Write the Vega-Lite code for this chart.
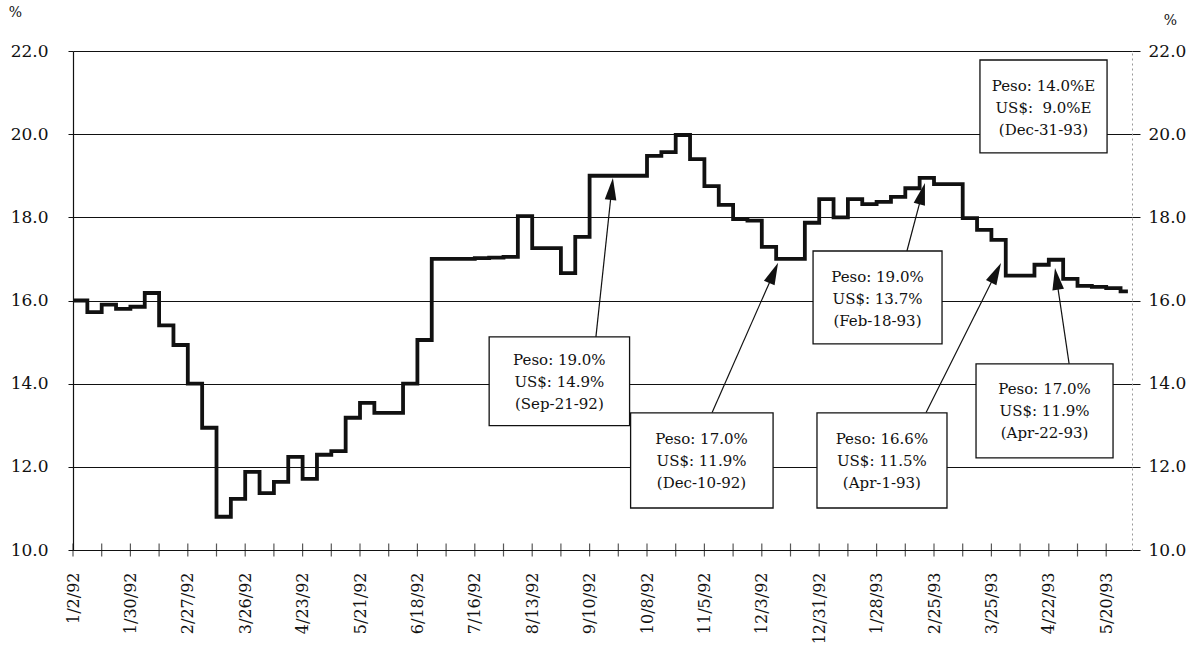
{
  "$schema": "https://vega.github.io/schema/vega-lite/v6.json",
  "width": 1059,
  "height": 499,
  "autosize": {"type": "none"},
  "padding": {"left": 73, "top": 51, "right": 70, "bottom": 97},
  "background": "white",
  "config": {"view": {"stroke": null}, "font": "DejaVu Serif"},
  "datasets": {
    "series": [
      {"date": "1992-01-02T00:00", "rate": 16.0},
      {"date": "1992-01-09T00:00", "rate": 15.72},
      {"date": "1992-01-16T00:00", "rate": 15.9},
      {"date": "1992-01-23T00:00", "rate": 15.8},
      {"date": "1992-01-30T00:00", "rate": 15.85},
      {"date": "1992-02-06T00:00", "rate": 16.18},
      {"date": "1992-02-13T00:00", "rate": 15.4},
      {"date": "1992-02-20T00:00", "rate": 14.93},
      {"date": "1992-02-27T00:00", "rate": 14.0},
      {"date": "1992-03-05T00:00", "rate": 12.94},
      {"date": "1992-03-12T00:00", "rate": 10.8},
      {"date": "1992-03-19T00:00", "rate": 11.23},
      {"date": "1992-03-26T00:00", "rate": 11.88},
      {"date": "1992-04-02T00:00", "rate": 11.37},
      {"date": "1992-04-09T00:00", "rate": 11.64},
      {"date": "1992-04-16T00:00", "rate": 12.24},
      {"date": "1992-04-23T00:00", "rate": 11.71},
      {"date": "1992-04-30T00:00", "rate": 12.29},
      {"date": "1992-05-07T00:00", "rate": 12.38},
      {"date": "1992-05-14T00:00", "rate": 13.18},
      {"date": "1992-05-21T00:00", "rate": 13.54},
      {"date": "1992-05-28T00:00", "rate": 13.3},
      {"date": "1992-06-04T00:00", "rate": 13.3},
      {"date": "1992-06-11T00:00", "rate": 14.0},
      {"date": "1992-06-18T00:00", "rate": 15.05},
      {"date": "1992-06-25T00:00", "rate": 17.0},
      {"date": "1992-07-02T00:00", "rate": 17.0},
      {"date": "1992-07-09T00:00", "rate": 17.0},
      {"date": "1992-07-16T00:00", "rate": 17.02},
      {"date": "1992-07-23T00:00", "rate": 17.03},
      {"date": "1992-07-30T00:00", "rate": 17.05},
      {"date": "1992-08-06T00:00", "rate": 18.03},
      {"date": "1992-08-13T00:00", "rate": 17.26},
      {"date": "1992-08-20T00:00", "rate": 17.26},
      {"date": "1992-08-27T00:00", "rate": 16.66},
      {"date": "1992-09-03T00:00", "rate": 17.53},
      {"date": "1992-09-10T00:00", "rate": 19.0},
      {"date": "1992-09-17T00:00", "rate": 19.0},
      {"date": "1992-09-24T00:00", "rate": 19.0},
      {"date": "1992-10-01T00:00", "rate": 19.0},
      {"date": "1992-10-08T00:00", "rate": 19.48},
      {"date": "1992-10-15T00:00", "rate": 19.57},
      {"date": "1992-10-22T00:00", "rate": 19.98},
      {"date": "1992-10-29T00:00", "rate": 19.4},
      {"date": "1992-11-05T00:00", "rate": 18.75},
      {"date": "1992-11-12T00:00", "rate": 18.3},
      {"date": "1992-11-19T00:00", "rate": 17.96},
      {"date": "1992-11-26T00:00", "rate": 17.92},
      {"date": "1992-12-03T00:00", "rate": 17.29},
      {"date": "1992-12-10T00:00", "rate": 17.0},
      {"date": "1992-12-17T00:00", "rate": 17.0},
      {"date": "1992-12-24T00:00", "rate": 17.87},
      {"date": "1992-12-31T00:00", "rate": 18.44},
      {"date": "1993-01-07T00:00", "rate": 18.0},
      {"date": "1993-01-14T00:00", "rate": 18.44},
      {"date": "1993-01-21T00:00", "rate": 18.32},
      {"date": "1993-01-28T00:00", "rate": 18.37},
      {"date": "1993-02-04T00:00", "rate": 18.49},
      {"date": "1993-02-11T00:00", "rate": 18.7},
      {"date": "1993-02-18T00:00", "rate": 18.95},
      {"date": "1993-02-25T00:00", "rate": 18.8},
      {"date": "1993-03-04T00:00", "rate": 18.8},
      {"date": "1993-03-11T00:00", "rate": 17.98},
      {"date": "1993-03-18T00:00", "rate": 17.7},
      {"date": "1993-03-25T00:00", "rate": 17.46},
      {"date": "1993-04-01T00:00", "rate": 16.6},
      {"date": "1993-04-08T00:00", "rate": 16.6},
      {"date": "1993-04-15T00:00", "rate": 16.86},
      {"date": "1993-04-22T00:00", "rate": 16.98},
      {"date": "1993-04-29T00:00", "rate": 16.52},
      {"date": "1993-05-06T00:00", "rate": 16.35},
      {"date": "1993-05-13T00:00", "rate": 16.33},
      {"date": "1993-05-20T00:00", "rate": 16.3},
      {"date": "1993-05-27T00:00", "rate": 16.22},
      {"date": "1993-05-30T14:00", "rate": 16.22}
    ],
    "ticks": [
      {"date": "1992-01-02T00:00"}, {"date": "1992-01-16T00:00"}, {"date": "1992-01-30T00:00"},
      {"date": "1992-02-13T00:00"}, {"date": "1992-02-27T00:00"}, {"date": "1992-03-12T00:00"},
      {"date": "1992-03-26T00:00"}, {"date": "1992-04-09T00:00"}, {"date": "1992-04-23T00:00"},
      {"date": "1992-05-07T00:00"}, {"date": "1992-05-21T00:00"}, {"date": "1992-06-04T00:00"},
      {"date": "1992-06-18T00:00"}, {"date": "1992-07-02T00:00"}, {"date": "1992-07-16T00:00"},
      {"date": "1992-07-30T00:00"}, {"date": "1992-08-13T00:00"}, {"date": "1992-08-27T00:00"},
      {"date": "1992-09-10T00:00"}, {"date": "1992-09-24T00:00"}, {"date": "1992-10-08T00:00"},
      {"date": "1992-10-22T00:00"}, {"date": "1992-11-05T00:00"}, {"date": "1992-11-19T00:00"},
      {"date": "1992-12-03T00:00"}, {"date": "1992-12-17T00:00"}, {"date": "1992-12-31T00:00"},
      {"date": "1993-01-14T00:00"}, {"date": "1993-01-28T00:00"}, {"date": "1993-02-11T00:00"},
      {"date": "1993-02-25T00:00"}, {"date": "1993-03-11T00:00"}, {"date": "1993-03-25T00:00"},
      {"date": "1993-04-08T00:00"}, {"date": "1993-04-22T00:00"}, {"date": "1993-05-06T00:00"},
      {"date": "1993-05-20T00:00"}
    ],
    "boxes": [
      {"x1": "1992-07-23T00:00", "x2": "1992-09-29T12:00", "y1": 15.125, "y2": 12.99, "xc": "1992-08-26T06:00", "yc": 14.572, "label": "Peso: 19.0%\nUS$: 14.9%\n(Sep-21-92)"},
      {"x1": "1992-09-30T00:00", "x2": "1992-12-08T12:00", "y1": 13.3, "y2": 11.01, "xc": "1992-11-03T14:00", "yc": 12.67, "label": "Peso: 17.0%\nUS$: 11.9%\n(Dec-10-92)"},
      {"x1": "1992-12-28T00:00", "x2": "1993-02-28T22:00", "y1": 17.19, "y2": 14.957, "xc": "1993-01-28T10:00", "yc": 16.567, "label": "Peso: 19.0%\nUS$: 13.7%\n(Feb-18-93)"},
      {"x1": "1992-12-29T22:00", "x2": "1993-03-03T08:00", "y1": 13.3, "y2": 11.01, "xc": "1993-01-30T14:00", "yc": 12.67, "label": "Peso: 16.6%\nUS$: 11.5%\n(Apr-1-93)"},
      {"x1": "1993-03-17T12:00", "x2": "1993-05-23T08:00", "y1": 14.476, "y2": 12.216, "xc": "1993-04-19T22:00", "yc": 13.86, "label": "Peso: 17.0%\nUS$: 11.9%\n(Apr-22-93)"},
      {"x1": "1993-03-19T10:00", "x2": "1993-05-20T10:00", "y1": 21.784, "y2": 19.548, "xc": "1993-04-19T10:00", "yc": 21.17, "label": "Peso: 14.0%E\nUS$:\u00a0\u00a09.0%E\n(Dec-31-93)"}
    ],
    "arrows": [
      {"xs": "1992-09-13T02:00", "ys": 15.125, "xh": "1992-09-20T19:00", "yh": 18.683, "angle": 6.1},
      {"xs": "1992-11-08T17:00", "ys": 13.3, "xh": "1992-12-08T19:00", "yh": 16.663, "angle": 23.7},
      {"xs": "1993-02-11T19:00", "ys": 17.19, "xh": "1993-02-19T05:00", "yh": 18.572, "angle": 14.8},
      {"xs": "1993-02-21T02:00", "ys": 13.3, "xh": "1993-03-27T07:00", "yh": 16.668, "angle": 26.6},
      {"xs": "1993-05-01T22:00", "ys": 14.476, "xh": "1993-04-25T19:00", "yh": 16.522, "angle": -8.3}
    ]
  },
  "resolve": {"axis": {"y": "independent"}},
  "layer": [
    {
      "data": {"name": "series"},
      "mark": {"type": "line", "interpolate": "step-after", "color": "#111111", "strokeWidth": 3.8},
      "encoding": {
        "x": {
          "field": "date", "type": "temporal",
          "scale": {"domain": [{"year": 1992, "month": 1, "date": 2}, {"year": 1993, "month": 6, "date": 1, "hours": 14}], "nice": false},
          "axis": {
            "title": null,
            "values": [
              {"year": 1992, "month": 1, "date": 2}, {"year": 1992, "month": 1, "date": 30},
              {"year": 1992, "month": 2, "date": 27}, {"year": 1992, "month": 3, "date": 26},
              {"year": 1992, "month": 4, "date": 23}, {"year": 1992, "month": 5, "date": 21},
              {"year": 1992, "month": 6, "date": 18}, {"year": 1992, "month": 7, "date": 16},
              {"year": 1992, "month": 8, "date": 13}, {"year": 1992, "month": 9, "date": 10},
              {"year": 1992, "month": 10, "date": 8}, {"year": 1992, "month": 11, "date": 5},
              {"year": 1992, "month": 12, "date": 3}, {"year": 1992, "month": 12, "date": 31},
              {"year": 1993, "month": 1, "date": 28}, {"year": 1993, "month": 2, "date": 25},
              {"year": 1993, "month": 3, "date": 25}, {"year": 1993, "month": 4, "date": 22},
              {"year": 1993, "month": 5, "date": 20}
            ],
            "format": "%-m/%-d/%y",
            "labelAngle": 270,
            "labelAlign": "right",
            "labelBaseline": "middle",
            "labelFont": "DejaVu Serif",
            "labelFontSize": 16,
            "labelColor": "#111111",
            "labelPadding": 22,
            "labelOverlap": false,
            "labelFlush": false,
            "ticks": false,
            "grid": false,
            "domainColor": "#111111",
            "domainWidth": 1.2
          }
        },
        "y": {
          "field": "rate", "type": "quantitative",
          "scale": {"domain": [10, 22], "nice": false, "zero": false},
          "axis": {
            "orient": "left",
            "values": [10, 12, 14, 16, 18, 20, 22],
            "format": ".1f",
            "labelFont": "DejaVu Serif",
            "labelFontSize": 17,
            "labelColor": "#111111",
            "labelPadding": 20,
            "tickSize": 5,
            "tickColor": "#111111",
            "domainColor": "#111111",
            "domainWidth": 1.2,
            "grid": true,
            "gridColor": "#111111",
            "gridWidth": 1,
            "gridOpacity": 1,
            "title": "%",
            "titleAngle": 0,
            "titleX": -58,
            "titleY": -39,
            "titleAlign": "center",
            "titleBaseline": "middle",
            "titleFont": "DejaVu Serif",
            "titleFontSize": 14,
            "titleFontWeight": "normal",
            "titleColor": "#111111"
          }
        }
      }
    },
    {
      "data": {"name": "ticks"},
      "mark": {"type": "tick", "orient": "vertical", "size": 13, "thickness": 1.2, "color": "#111111"},
      "encoding": {
        "x": {"field": "date", "type": "temporal",
              "scale": {"domain": [{"year": 1992, "month": 1, "date": 2}, {"year": 1993, "month": 6, "date": 1, "hours": 14}], "nice": false}},
        "y": {"datum": 10, "type": "quantitative", "axis": null,
              "scale": {"domain": [10, 22], "nice": false, "zero": false}}
      }
    },
    {
      "data": {"name": "arrows"},
      "mark": {"type": "rule", "color": "#111111", "strokeWidth": 1.2},
      "encoding": {
        "x": {"field": "xs", "type": "temporal",
              "scale": {"domain": [{"year": 1992, "month": 1, "date": 2}, {"year": 1993, "month": 6, "date": 1, "hours": 14}], "nice": false}},
        "x2": {"field": "xh"},
        "y": {"field": "ys", "type": "quantitative", "axis": null,
              "scale": {"domain": [10, 22], "nice": false, "zero": false}},
        "y2": {"field": "yh"}
      }
    },
    {
      "data": {"name": "boxes"},
      "mark": {"type": "rect", "fill": "white", "stroke": "#111111", "strokeWidth": 1.3},
      "encoding": {
        "x": {"field": "x1", "type": "temporal",
              "scale": {"domain": [{"year": 1992, "month": 1, "date": 2}, {"year": 1993, "month": 6, "date": 1, "hours": 14}], "nice": false}},
        "x2": {"field": "x2"},
        "y": {"field": "y1", "type": "quantitative",
              "scale": {"domain": [10, 22], "nice": false, "zero": false},
              "axis": {
                "orient": "right",
                "values": [10, 12, 14, 16, 18, 20, 22],
                "format": ".1f",
                "labelFont": "DejaVu Serif",
                "labelFontSize": 17,
                "labelColor": "#111111",
                "labelPadding": 8,
                "tickSize": 8,
                "tickColor": "#111111",
                "domainColor": "#999999",
                "domainDash": [2, 3],
                "domainWidth": 1,
                "grid": false,
                "title": "%",
                "titleAngle": 0,
                "titleX": 38,
                "titleY": -31,
                "titleAlign": "center",
                "titleBaseline": "middle",
                "titleFont": "DejaVu Serif",
                "titleFontSize": 14,
                "titleFontWeight": "normal",
                "titleColor": "#111111"
              }},
        "y2": {"field": "y2"}
      }
    },
    {
      "data": {"name": "boxes"},
      "mark": {"type": "text", "lineBreak": "\n", "lineHeight": 22, "fontSize": 15, "font": "DejaVu Serif", "align": "center", "baseline": "middle", "color": "#111111"},
      "encoding": {
        "x": {"field": "xc", "type": "temporal",
              "scale": {"domain": [{"year": 1992, "month": 1, "date": 2}, {"year": 1993, "month": 6, "date": 1, "hours": 14}], "nice": false}},
        "y": {"field": "yc", "type": "quantitative", "axis": null,
              "scale": {"domain": [10, 22], "nice": false, "zero": false}},
        "text": {"field": "label", "type": "nominal"}
      }
    },
    {
      "data": {"name": "arrows"},
      "mark": {"type": "point", "shape": "M0,-1L-0.53,1L0.53,1Z", "size": 484, "filled": true, "color": "#111111", "opacity": 1},
      "encoding": {
        "x": {"field": "xh", "type": "temporal",
              "scale": {"domain": [{"year": 1992, "month": 1, "date": 2}, {"year": 1993, "month": 6, "date": 1, "hours": 14}], "nice": false}},
        "y": {"field": "yh", "type": "quantitative", "axis": null,
              "scale": {"domain": [10, 22], "nice": false, "zero": false}},
        "angle": {"field": "angle", "type": "quantitative", "scale": null}
      }
    }
  ]
}
